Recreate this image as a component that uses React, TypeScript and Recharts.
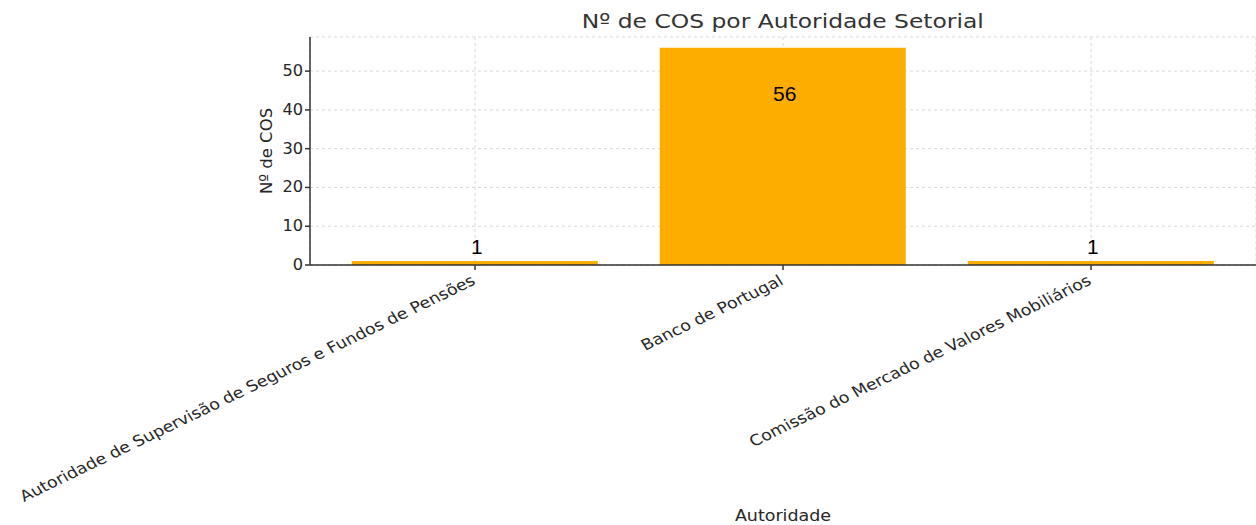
import React from 'react'
import {
  BarChart, Bar, XAxis, YAxis, CartesianGrid, LabelList, Label,
} from 'recharts'

const AUTORIDADES = [
  'Autoridade de Supervisão de Seguros e Fundos de Pensões',
  'Banco de Portugal',
  'Comissão do Mercado de Valores Mobiliários',
]
const N_COS = [1, 56, 1]
const Y_TICKS = [0, 10, 20, 30, 40, 50]

const FONT = '"DejaVu Sans", sans-serif'
const BAR_COLOR = '#FDAC00'
const TEXT = '#262626'
// the source image is a bit wider than tall, so horizontal text gets stretched
const STRETCH = 1.15

const data = AUTORIDADES.map((a, i) => ({ autoridade: a, cos: N_COS[i] }))

const RotatedTick = ({ x, y, payload }: any) => (
  <g transform={`translate(${x - 4},${y + 3})`}>
    <text
      x={0}
      y={0}
      dy={10}
      textAnchor="end"
      transform={`scale(${STRETCH},1) rotate(-29)`}
      fontSize={15.2}
      fontFamily={FONT}
      fill={TEXT}
    >
      {payload.value}
    </text>
  </g>
)

const YTick = ({ x, y, payload }: any) => (
  <g transform={`translate(${x},${y})`}>
    <text
      x={0}
      y={0}
      dy={5}
      textAnchor="end"
      transform="scale(1.08,1)"
      fontSize={15}
      fontFamily={FONT}
      fill={TEXT}
    >
      {payload.value}
    </text>
  </g>
)

const ValueLabel = ({ x, y, width, value }: any) => {
  // big bars get the number inside, small ones above
  const inside = value > 10
  return (
    <text
      x={x + width / 2 + 2}
      y={inside ? y + 53 : y - 7}
      textAnchor="middle"
      fontSize={21}
      fontFamily='"Liberation Sans Narrow", "Liberation Sans", sans-serif'
      fill="#000"
    >
      {value}
    </text>
  )
}

const XTitle = ({ viewBox }: any) => {
  const cx = viewBox.x + viewBox.width / 2
  const by = viewBox.y + viewBox.height - 4
  return (
    <text
      x={0}
      y={0}
      textAnchor="middle"
      transform={`translate(${cx},${by}) scale(${STRETCH},1)`}
      fontSize={15.2}
      fontFamily={FONT}
      fill={TEXT}
    >
      Autoridade
    </text>
  )
}

export default function App() {
  return (
    <div style={{ position: 'absolute', left: 0, top: 0, width: 1256, height: 525, background: '#fff' }}>
      <div
        style={{
          position: 'absolute', left: 310, width: 946, top: 9, textAlign: 'center',
          fontFamily: FONT, fontSize: 20, color: '#333',
        }}
      >
        <span style={{ display: 'inline-block', transform: 'scaleX(1.17)' }}>
          Nº de COS por Autoridade Setorial
        </span>
      </div>
      <BarChart
        width={1256}
        height={525}
        data={data}
        margin={{ top: 37, right: 0, bottom: 0, left: 250 }}
        barCategoryGap="10%"
      >
        <CartesianGrid stroke="#d9d9d9" strokeDasharray="3 3" />
        <XAxis
          dataKey="autoridade"
          type="category"
          height={260}
          padding={{ left: 11, right: 11 }}
          interval={0}
          tick={<RotatedTick />}
          tickSize={5}
          stroke="#333"
          strokeWidth={1.5}
        >
          <Label content={<XTitle />} />
        </XAxis>
        <YAxis
          width={60}
          domain={[0, 58.8]}
          ticks={Y_TICKS}
          tickSize={5}
          tick={<YTick />}
          stroke="#333"
          strokeWidth={1.5}
        >
          <Label
            value="Nº de COS"
            angle={-90}
            position="insideLeft"
            offset={16}
            style={{ fontFamily: FONT, fontSize: 16.5, fill: TEXT, textAnchor: 'middle' }}
          />
        </YAxis>
        <Bar dataKey="cos" fill={BAR_COLOR} isAnimationActive={false}>
          <LabelList dataKey="cos" content={<ValueLabel />} />
        </Bar>
      </BarChart>
    </div>
  )
}
